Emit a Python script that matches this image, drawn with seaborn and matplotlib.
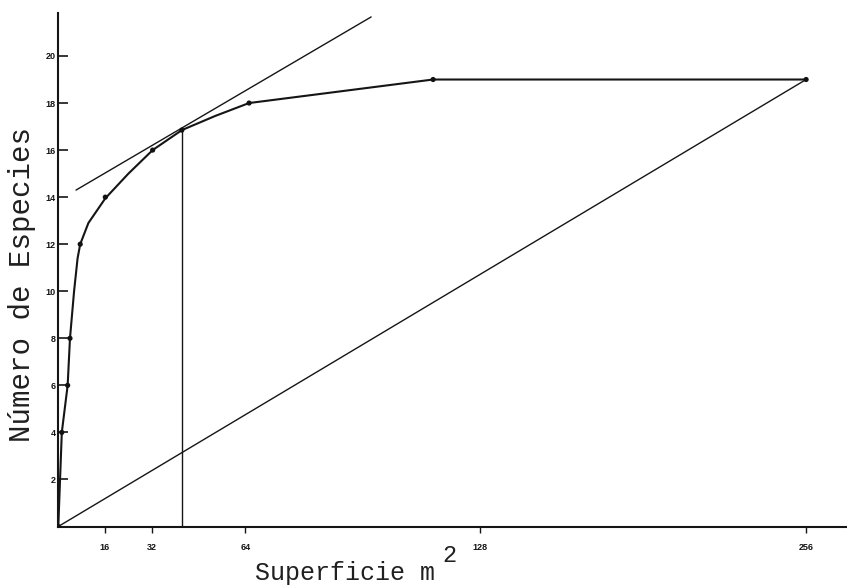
import matplotlib
matplotlib.use("Agg")
import matplotlib.pyplot as plt
import seaborn as sns
import pandas as pd

# ---- data ----
# sampled areas (m2) and species counts (dots)
area_pts = [0, 1.2, 3.2, 4.0, 7.5, 16.1, 32.3, 42.3, 65.3, 128.3, 256]
species_pts = [0, 4, 6, 8, 12, 14, 16, 16.85, 18, 19, 19]

# hand-drawn curve traced through the dots
trace_area = [0, 1.2, 3.2, 4.0, 5.4, 6.6, 7.5, 10.3, 16.1, 24.0, 32.3, 42.3, 53.7, 65.3, 128.3, 256]
trace_species = [0, 4, 6, 8, 10, 11.4, 12, 12.9, 13.95, 15.0, 16.0, 16.85, 17.45, 18.0, 19, 19]

# tangent line
tangent_area = [6.06, 107.1]
tangent_species = [14.3, 21.66]

# diagonal from origin to last point
diag_area = [0, 256]
diag_species = [0, 19]

# vertical line at minimal area
vert_area = [42.3, 42.3]
vert_species = [0, 16.85]

# axis ticks (positions as drawn in the reference)
xtick_pos = [16, 32, 64, 144.2, 256]
xtick_labels = ["16", "32", "64", "128", "256"]
ytick_pos = [2, 4, 6, 8, 10, 12, 14, 16, 18, 20]
ytick_labels = ["2", "4", "6", "8", "10", "12", "14", "16", "18", "20"]

sns.set_theme(style="white")
plt.rcParams["font.family"] = ["Liberation Mono", "DejaVu Sans"]

fig = plt.figure(figsize=(8.47, 5.85), dpi=100)
ax = fig.add_axes([58.3 / 847, 58.5 / 585, (847 - 58.3) / 847, (526.5 - 12.7) / 585])

df_trace = pd.DataFrame({"a": trace_area, "s": trace_species})
df_tan = pd.DataFrame({"a": tangent_area, "s": tangent_species})
df_diag = pd.DataFrame({"a": diag_area, "s": diag_species})
df_vert = pd.DataFrame({"a": vert_area, "s": vert_species})
df_pts = pd.DataFrame({"a": area_pts, "s": species_pts})

ink = "#151515"
sns.lineplot(data=df_trace, x="a", y="s", sort=False, estimator=None, color=ink, linewidth=1.5, ax=ax)
sns.lineplot(data=df_tan, x="a", y="s", sort=False, estimator=None, color=ink, linewidth=1.0, ax=ax)
sns.lineplot(data=df_diag, x="a", y="s", sort=False, estimator=None, color=ink, linewidth=1.0, ax=ax)
sns.lineplot(data=df_vert, x="a", y="s", sort=False, estimator=None, color=ink, linewidth=1.0, ax=ax)
sns.scatterplot(data=df_pts, x="a", y="s", color="#111111", s=14, edgecolor="none", ax=ax, zorder=5)

ax.set_xlim(0, 270)
ax.set_ylim(0, 21.84)

for side in ["top", "right"]:
    ax.spines[side].set_visible(False)
for side in ["left", "bottom"]:
    ax.spines[side].set_color(ink)
    ax.spines[side].set_linewidth(1.5)

ax.set_xticks(xtick_pos)
ax.set_xticklabels(xtick_labels, fontsize=6.5, fontweight="bold", family="Liberation Sans")
ax.set_yticks(ytick_pos)
ax.set_yticklabels(ytick_labels, fontsize=6.5, fontweight="bold", family="Liberation Sans")
ax.tick_params(axis="y", direction="in", length=7.5, width=1.2, pad=2, left=True, colors=ink)
ax.tick_params(axis="x", direction="out", length=4, width=1.0, pad=8, bottom=True, colors=ink)

ax.set_xlabel("")
ax.set_ylabel("")

fig.text(255 / 847, 1 - 580 / 585, "Superficie m", fontsize=18, color="#202020",
         ha="left", va="baseline", family="Liberation Mono")
fig.text(442 / 847, 1 - 562 / 585, "2", fontsize=17, color="#202020",
         ha="left", va="baseline", family="Liberation Mono")
fig.text(22 / 847, 1 - 285 / 585, "Número de Especies", fontsize=21, color="#202020",
         rotation=90, ha="center", va="center", family="Liberation Mono")

fig.savefig("out.png", dpi=100, facecolor="white")
